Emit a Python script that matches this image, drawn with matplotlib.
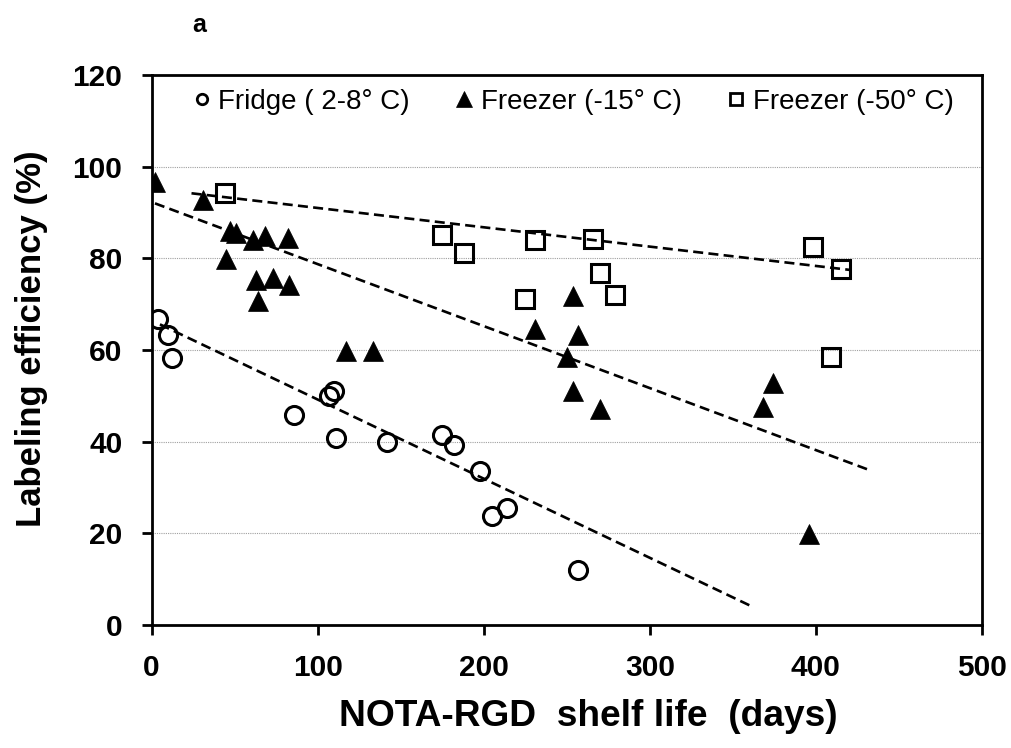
import numpy as np
import matplotlib
matplotlib.use('Agg')
import matplotlib.pyplot as plt
from matplotlib.lines import Line2D

plt.rcParams['font.family'] = ['Liberation Sans', 'DejaVu Sans']

# fridge (2-8 C)
fridge_days = [4, 10, 12, 86, 107, 110, 111, 142, 175, 182, 198, 205, 214, 257]
fridge_eff = [66.7, 63.3, 58.3, 45.8, 50.0, 51.0, 40.8, 40.0, 41.5, 39.3, 33.5, 23.7, 25.6, 12.0]

# freezer (-15 C)
f15_days = [2, 31, 47, 51, 45, 61, 68, 82, 63, 73, 83, 64, 117, 133,
            254, 231, 257, 250, 254, 270, 374, 368, 396]
f15_eff = [96.7, 92.8, 85.9, 85.5, 79.9, 84.1, 84.8, 84.4, 75.2, 75.7, 74.1, 70.7, 59.8, 59.8,
           71.7, 64.5, 63.3, 58.5, 51.1, 47.1, 52.9, 47.6, 19.9]

# freezer (-50 C)
f50_days = [44, 175, 188, 231, 266, 270, 279, 225, 398, 415, 409]
f50_eff = [94.2, 85.0, 81.2, 84.1, 84.3, 76.7, 72.1, 71.2, 82.5, 77.7, 58.5]

# trendlines as drawn in the source (start/end)
fridge_trend_x = [5, 360]
fridge_trend_y = [65.6, 4.3]
f15_trend_x = [2, 433]
f15_trend_y = [92.0, 33.7]
f50_trend_x = [24, 420]
f50_trend_y = [94.2, 77.5]

labels = ['Fridge ( 2-8\u00b0 C)', 'Freezer (-15\u00b0 C)', 'Freezer (-50\u00b0 C)']
x_ticks = [0, 100, 200, 300, 400, 500]
y_ticks = [0, 20, 40, 60, 80, 100, 120]

fig = plt.figure(figsize=(10.11, 7.48), dpi=100)
ax = fig.add_axes([0.150, 0.1644, 0.8213, 0.7353])

ax.plot(fridge_days, fridge_eff, 'o', ms=13, mfc='none', mec='black', mew=2.2, zorder=3)
ax.plot(f15_days, f15_eff, '^', ms=15, mfc='black', mec='black', mew=0.5, zorder=3)
ax.plot(f50_days, f50_eff, 's', ms=13, mfc='none', mec='black', mew=2.2, zorder=3)

for tx, ty in [(fridge_trend_x, fridge_trend_y), (f15_trend_x, f15_trend_y),
               (f50_trend_x, f50_trend_y)]:
    ax.plot(tx, ty, color='black', lw=1.9, dashes=(3.8, 2.0), zorder=4)

ax.set_xlim(0, 500)
ax.set_ylim(0, 120)
ax.set_xticks(x_ticks)
ax.set_yticks(y_ticks)

for y in y_ticks[1:-1]:
    ax.axhline(y, color='#a0a0a0', lw=0.8, ls=(0, (1, 1)), zorder=1)

for sp in ax.spines.values():
    sp.set_linewidth(2.0)
ax.tick_params(axis='both', direction='out', length=7, width=2.0, labelsize=21.5)
ax.tick_params(axis='y', pad=14)
ax.tick_params(axis='x', pad=14)
for lab in ax.get_xticklabels() + ax.get_yticklabels():
    lab.set_fontweight('bold')

ax.set_xlabel('NOTA-RGD  shelf life  (days)', fontsize=26.7, fontweight='bold')
ax.set_ylabel('Labeling efficiency (%)', fontsize=25, fontweight='bold')
ax.xaxis.set_label_coords(0.5255, -0.135)
ax.yaxis.set_label_coords(-0.125, 0.52)

handles = [
    Line2D([], [], ls='none', marker='o', ms=7.5, mfc='none', mec='black', mew=2.0),
    Line2D([], [], ls='none', marker='^', ms=11, mfc='black', mec='black', mew=0.5),
    Line2D([], [], ls='none', marker='s', ms=8, mfc='none', mec='black', mew=2.0),
]
ax.legend(handles, labels, loc='center left', bbox_to_anchor=(0.052, 0.951), ncol=3,
          frameon=False, fontsize=20, handlelength=0.5, handletextpad=0.35,
          columnspacing=1.7, borderpad=0, borderaxespad=0)

fig.text(199 / 1011, 1 - 25 / 748, 'a', ha='center', va='center',
         fontsize=18, fontweight='bold')

fig.savefig('out.png', dpi=100)
